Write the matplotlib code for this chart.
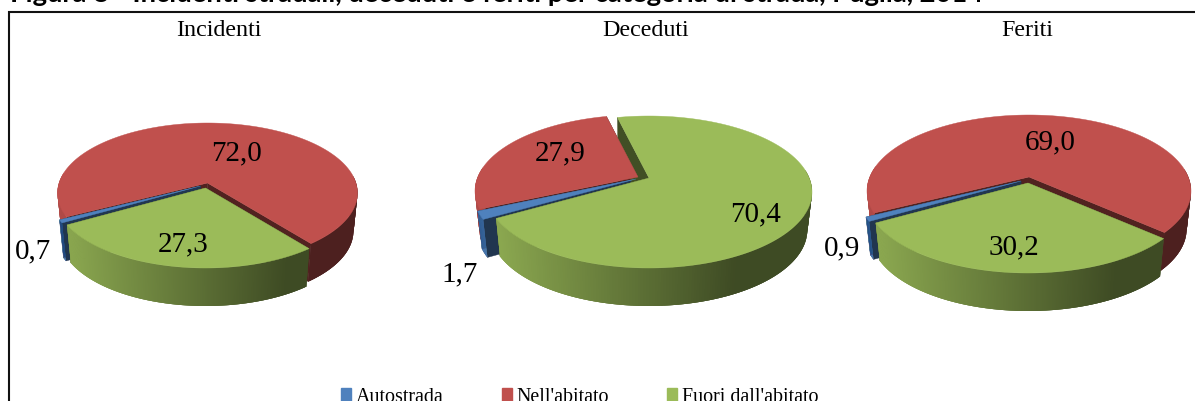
import numpy as np
import matplotlib
matplotlib.use("Agg")
import matplotlib.pyplot as plt
from matplotlib.collections import PolyCollection
from matplotlib.patches import Patch, Polygon
from matplotlib.colors import to_rgb

W, H = 1195, 401
SERIF = ["Liberation Serif", "DejaVu Serif"]

title = "Figura 8 - Incidenti stradali, deceduti e feriti per categoria di strada, Puglia, 2014"
categories = ["Autostrada", "Nell'abitato", "Fuori dall'abitato"]
panels = ["Incidenti", "Deceduti", "Feriti"]
incidenti = [0.7, 72.0, 27.3]
deceduti = [1.7, 27.9, 70.4]
feriti = [0.9, 69.0, 30.2]
colors = ["#4F81BD", "#C0504D", "#9BBB59"]
START = -150.0  # angle of the first slice, going clockwise
DEPTH = 38
NARROW = 0.973  # the lower rim is further from the eye

# layout of each pie: centre, radius, extent above and below the centre
layout = [
    dict(cx=207.5, cy=183, rx=150, up=60, down=80, title_x=219,
         off=[(-7, 3), (0, 0), (-2, 5)],
         lab=[(33, 250), (237, 152), (183, 243)]),
    dict(cx=638, cy=177, rx=163, up=62, down=90, title_x=646,
         off=[(-2, 2), (0, 0), (11, 1)],
         lab=[(460, 273), (560, 152), (756, 213)]),
    dict(cx=1029, cy=177, rx=162, up=62, down=90, title_x=1027,
         off=[(-8, 4), (0, 0), (-1, 6)],
         lab=[(842, 247), (1050, 141), (1014, 246)]),
]


def project(theta, p, dx, dy):
    """Perspective view of a point of the unit circle, in pixels."""
    k = (p["down"] - p["up"]) / (p["down"] + p["up"])
    b = p["up"] * (1 + k)
    a = p["rx"] * np.sqrt(1 - k * k)
    s, c = np.sin(theta), np.cos(theta)
    return p["cx"] + dx + a * c / (1 + k * s), p["cy"] + dy - b * s / (1 + k * s)


def shade(col, xrel):
    t = np.clip((xrel + 1) / 1.55, 0, 1)
    return np.array(to_rgb(col)) * (0.92 - 0.52 * t)


fig = plt.figure(figsize=(W / 100, H / 100), dpi=100)
ax = fig.add_axes([0, 0, 1, 1])
ax.set_xlim(0, W)
ax.set_ylim(H, 0)
ax.axis("off")

for name, vals, p in zip(panels, [incidenti, deceduti, feriti], layout):
    ang = START - np.cumsum([0] + vals) * 3.6

    def low(xv, cx=p["cx"]):
        return cx + (xv - cx) * NARROW

    for layer_pass in ("side", "top"):
        for i in (1, 0, 2):
            dx, dy = p["off"][i]
            th = np.radians(np.linspace(ang[i], ang[i + 1], 300))
            x, y = project(th, p, dx, dy)
            tip_y = p["cy"] + dy
            tip_x = p["cx"] + dx
            if layer_pass == "side":
                dark = np.array(to_rgb(colors[i])) * 0.42
                for xe, ye in ((x[0], y[0]), (x[-1], y[-1])):
                    ax.add_patch(Polygon(
                        [(tip_x, tip_y), (xe, ye), (low(xe), ye + DEPTH), (low(tip_x), tip_y + DEPTH)],
                        closed=True, fc=dark, ec=dark, lw=0.3, zorder=2))
                # each strip reaches under the next one, so that no seam shows
                polys, fcs = [], []
                for j in range(len(x) - 1):
                    if np.sin(th[j]) > 0.12:
                        continue
                    e = min(j + 3, len(x) - 1)
                    polys.append([(x[j], y[j]), (x[e], y[e]),
                                  (low(x[e]), y[e] + DEPTH), (low(x[j]), y[j] + DEPTH)])
                    fcs.append(shade(colors[i], (x[j] - p["cx"] - dx) / p["rx"]))
                if polys:
                    ax.add_collection(PolyCollection(polys, facecolors=fcs, edgecolors="none",
                                                     linewidths=0, zorder=2))
            else:
                pts = [(tip_x, tip_y)] + list(zip(x, y))
                ax.add_patch(Polygon(pts, closed=True, fc=colors[i], ec=colors[i],
                                     lw=0.3, zorder=3))
    for v, (lx, ly) in zip(vals, p["lab"]):
        ax.text(lx, ly + 1, f"{v:.1f}".replace(".", ","), ha="center", va="center",
                family=SERIF, fontsize=21, color="black", zorder=5)
    ax.text(p["title_x"], 30, name, ha="center", va="center", family=SERIF,
            fontsize=17.3, color="black", zorder=5)

# frame, cut by the picture's right and bottom edges
ax.plot([9.5, 9.5, W + 5], [H + 5, 11.5, 11.5], color="#111111", lw=1.5,
        solid_joinstyle="miter", zorder=6)

ax.text(10, 2.5, title, ha="left", va="baseline", family=["Lato", "DejaVu Sans"],
        fontweight="bold", fontsize=19.7, color="black", zorder=7)

handles = [Patch(fc=c, ec=c) for c in colors]
ax.legend(handles, categories, ncol=3, frameon=False, loc="center left",
          bbox_to_anchor=(341 / W, 1 - 397 / H), bbox_transform=fig.transFigure,
          prop={"family": SERIF, "size": 14.4}, handlelength=0.5, handleheight=0.7,
          handletextpad=0.25, columnspacing=2.9, borderpad=0, borderaxespad=0)

fig.savefig("out.png", dpi=100)
